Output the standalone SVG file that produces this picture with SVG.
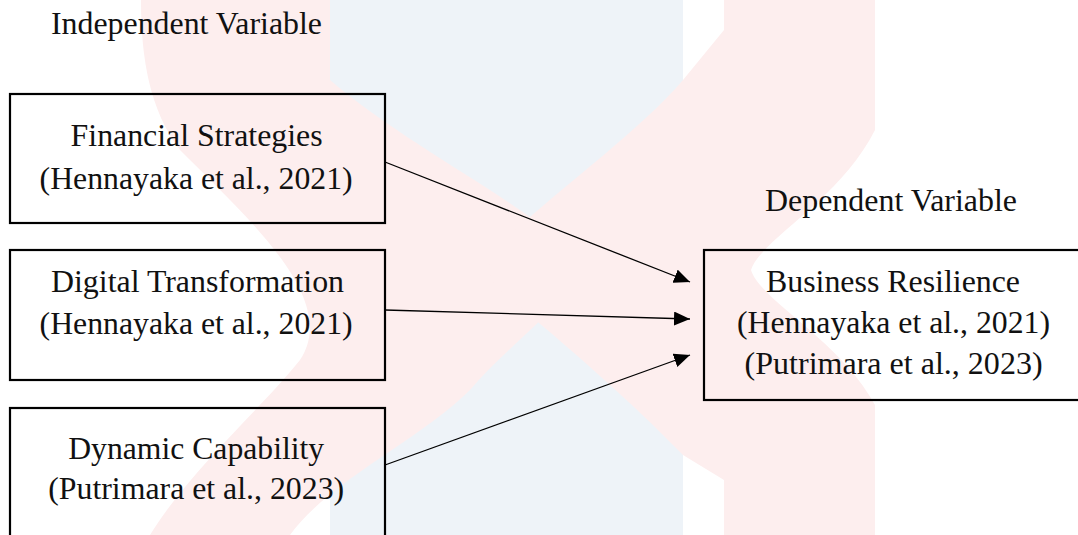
<svg xmlns="http://www.w3.org/2000/svg" width="1078" height="535" viewBox="0 0 1078 535">
  <style>
    .box { fill: none; stroke: #000; stroke-width: 2.2; }
    .t { font-family: "Liberation Serif", "Times New Roman", serif; font-size: 31px; fill: #111; }
    .edge { stroke: #000; stroke-width: 1.3; fill: none; }
  </style>
  <defs>
    <marker id="ah" viewBox="0 0 16 14" refX="16" refY="7" markerWidth="16" markerHeight="14" markerUnits="userSpaceOnUse" orient="auto">
      <path d="M0,0 L16,7 L0,14 Z" fill="#000"/>
    </marker>
  </defs>
  <g id="background">
    <rect x="0" y="0" width="1078" height="535" fill="#ffffff"/>
    <rect x="330" y="0" width="353" height="535" fill="#eef3f8"/>
    <path d="M141,0 L330,0 L330,80 C400,140 500,190 560,240 C600,290 520,330 470,390 C420,440 330,480 290,535 L150,535 C190,470 260,410 300,360 C340,300 250,220 180,150 C150,110 141,60 141,0 Z" fill="#fdeeee"/>
    <path d="M724,0 L875,0 L875,130 C840,200 760,240 751,270 C760,300 840,340 875,405 L875,535 L724,535 L724,480 L683,455 C630,400 560,340 500,290 C480,270 490,250 510,235 C570,180 640,130 683,80 L724,30 Z" fill="#fdeeee"/>
  </g>
  <g id="labels">
    <text class="t" x="51" y="34" textLength="271" lengthAdjust="spacingAndGlyphs">Independent Variable</text>
    <text class="t" x="765" y="211" textLength="252" lengthAdjust="spacingAndGlyphs">Dependent Variable</text>
  </g>
  <g id="node-financial">
    <rect class="box" x="10" y="94" width="375" height="129"/>
    <text class="t" x="70.6" y="146" textLength="252" lengthAdjust="spacingAndGlyphs">Financial Strategies</text>
    <text class="t" x="39.6" y="189" textLength="313" lengthAdjust="spacingAndGlyphs">(Hennayaka et al., 2021)</text>
  </g>
  <g id="node-digital">
    <rect class="box" x="10" y="250" width="375" height="130"/>
    <text class="t" x="51" y="292" textLength="293" lengthAdjust="spacingAndGlyphs">Digital Transformation</text>
    <text class="t" x="39.6" y="334" textLength="313" lengthAdjust="spacingAndGlyphs">(Hennayaka et al., 2021)</text>
  </g>
  <g id="node-dynamic">
    <rect class="box" x="10" y="408" width="375" height="140"/>
    <text class="t" x="68.2" y="459" textLength="256" lengthAdjust="spacingAndGlyphs">Dynamic Capability</text>
    <text class="t" x="48.2" y="499" textLength="296" lengthAdjust="spacingAndGlyphs">(Putrimara et al., 2023)</text>
  </g>
  <g id="node-resilience">
    <rect class="box" x="704" y="250" width="380" height="150"/>
    <text class="t" x="766" y="292" textLength="254" lengthAdjust="spacingAndGlyphs">Business Resilience</text>
    <text class="t" x="737" y="333" textLength="313" lengthAdjust="spacingAndGlyphs">(Hennayaka et al., 2021)</text>
    <text class="t" x="744.6" y="374" textLength="298" lengthAdjust="spacingAndGlyphs">(Putrimara et al., 2023)</text>
  </g>
  <g id="connectors">
    <line class="edge" x1="385" y1="162" x2="690" y2="282" marker-end="url(#ah)"/>
    <line class="edge" x1="385" y1="310" x2="690" y2="319" marker-end="url(#ah)"/>
    <line class="edge" x1="385" y1="465" x2="690" y2="355" marker-end="url(#ah)"/>
  </g>
</svg>
